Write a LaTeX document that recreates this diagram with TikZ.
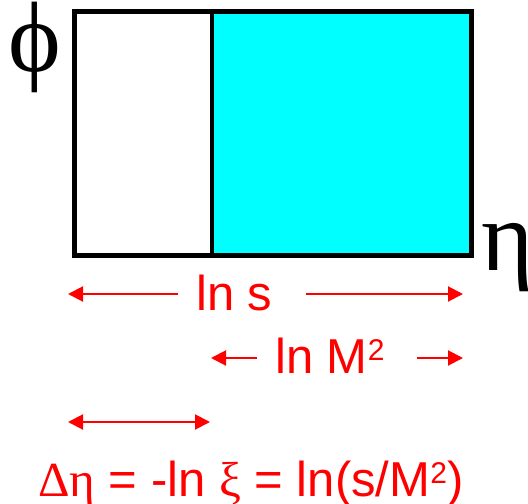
\documentclass[tikz,border=0pt]{standalone}
\usepackage{fontspec}
\setmainfont{Liberation Sans}
\newfontfamily\grk{Liberation Serif}
\usetikzlibrary{arrows.meta}
\definecolor{cy}{RGB}{0,255,255}
\definecolor{rd}{RGB}{255,0,0}
\newcommand{\supsq}{\raisebox{13bp}{\fontsize{30bp}{30bp}\selectfont 2}}
\begin{document}
\begin{tikzpicture}[x=1bp,y=-1bp,
  lbl/.style={text=rd,inner sep=0pt,anchor=base west,font=\fontsize{49bp}{60bp}\selectfont},
  axis/.style={inner sep=0pt,anchor=base,font=\grk\fontsize{100bp}{110bp}\selectfont},
  dim/.style={draw=rd,line width=2bp,-{Triangle[length=15bp,width=15bp]}},
  ddim/.style={draw=rd,line width=2bp,{Triangle[length=15bp,width=15bp]}-{Triangle[length=15bp,width=15bp]}}]
\useasboundingbox (0,0) rectangle (528,504);
% box
\fill[cy] (212,12) rectangle (471,255);
\draw[line width=5bp] (74,12) rectangle (471,255);
\draw[line width=4bp] (212,12) -- (212,255);
% axis labels
\node[axis] (phi) at (35,72) {ϕ};
\node[axis,anchor=base west] (eta) at (481,270) {η};
% ln s
\node[lbl] (lns) at (196,310) {ln s};
\coordinate (a1l) at (68,294);
\coordinate (a1r) at (463,294);
\coordinate (a1s) at (178,294);
\coordinate (a1e) at (306,294);
\draw[dim] (a1s) -- (a1l);
\draw[dim] (a1e) -- (a1r);
% ln M2
\node[lbl] (lnm) at (275,373) {ln M\supsq};
\coordinate (a2l) at (211,358);
\coordinate (a2r) at (463,358);
\coordinate (a2s) at (257,358);
\coordinate (a2e) at (417,358);
\draw[dim] (a2s) -- (a2l);
\draw[dim] (a2e) -- (a2r);
% delta eta
\coordinate (a3l) at (68,422);
\coordinate (a3r) at (210,422);
\draw[ddim] (a3l) -- (a3r);
\node[lbl] (form) at (38,496) {{\grk Δη} = -ln {\grk ξ} = ln(s/M\supsq)};
\end{tikzpicture}
\end{document}
